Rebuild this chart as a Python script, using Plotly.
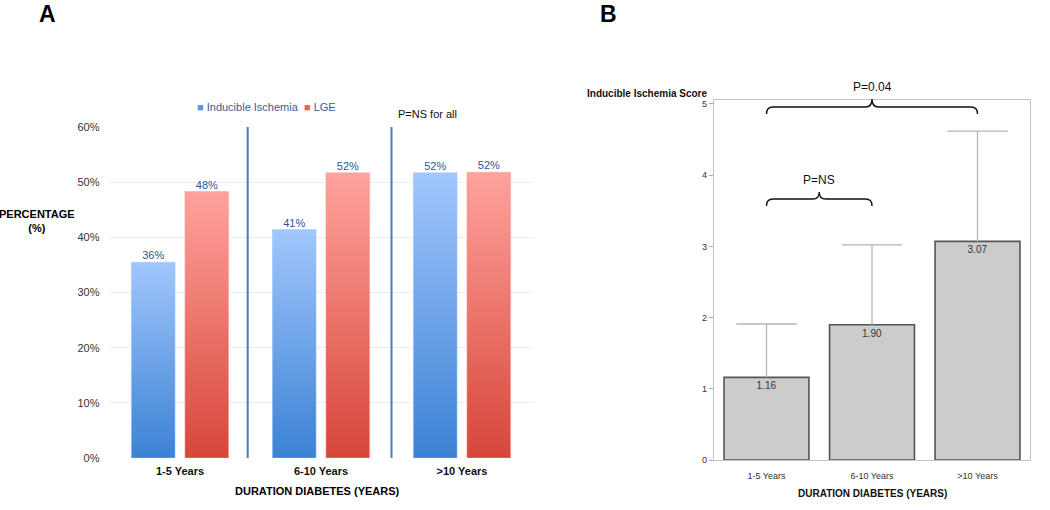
import plotly.graph_objects as go

# ---------------- data ----------------
categories = ["1-5 Years", "6-10 Years", ">10 Years"]
ischemia_pct = [35.5, 41.4, 51.7]
lge_pct = [48.3, 51.7, 51.8]
score_mean = [1.16, 1.90, 3.07]
score_err_plus = [0.75, 1.12, 1.55]
pct_ticks = [0, 10, 20, 30, 40, 50, 60]
score_ticks = [0, 1, 2, 3, 4, 5]

W, H = 1050, 510
FONT = "Liberation Sans, Arial, sans-serif"

def py(pix):
    """pixel row -> paper fraction"""
    return 1 - pix / H

fig = go.Figure()

# ---------------- panel A : gradient bars ----------------
bar_w = 0.31
off = 0.19
series = [
    ("Inducible Ischemia", ischemia_pct, -off, "#3b82d4", "#a2c6fd"),
    ("LGE", lge_pct, off, "#d7463a", "#ffa29c"),
]
for name, vals, o, dark, light in series:
    for i, v in enumerate(vals):
        x0 = i + o - bar_w / 2
        x1 = i + o + bar_w / 2
        fig.add_trace(go.Scatter(
            x=[x0, x0, x1, x1, x0], y=[0, v, v, 0, 0],
            mode="lines", fill="toself", line=dict(width=0.5, color=light),
            fillgradient=dict(type="vertical", colorscale=[[0, dark], [1, light]]),
            xaxis="x", yaxis="y", showlegend=False, hoverinfo="skip", name=name,
        ))
    fig.add_trace(go.Scatter(
        x=[i + o for i in range(len(vals))], y=vals, mode="text",
        texttemplate="%{y:.0f}%", textposition="top center",
        textfont=dict(family=FONT, size=11, color="#2f5597"),
        xaxis="x", yaxis="y", showlegend=False, name=name, hoverinfo="skip",
    ))

# separators between category groups
for k in range(len(categories) - 1):
    fig.add_shape(type="line", xref="x", yref="y", x0=k + 0.48 + 0.02 * k, x1=k + 0.48 + 0.02 * k,
                  y0=0, y1=pct_ticks[-1], line=dict(color="#4a7ebb", width=2))

# ---------------- panel B : score bars ----------------
cat_idx = list(range(len(categories)))
ERR_COLOR = "#b4b4b4"
fig.add_trace(go.Bar(
    x=cat_idx, y=score_mean, width=0.805,
    marker=dict(color="#cccccc", line=dict(color="#555555", width=1.6)),
    error_y=dict(type="data", symmetric=False, array=score_err_plus,
                 arrayminus=[0] * len(score_mean), color=ERR_COLOR, thickness=1.3, width=0),
    texttemplate="%{y:.2f}", textposition="inside", insidetextanchor="end",
    textfont=dict(family=FONT, size=10, color="#333333"), constraintext="none",
    xaxis="x2", yaxis="y2", showlegend=False, name="Inducible Ischemia Score", hoverinfo="skip",
))
# error-bar caps (top only)
fig.add_trace(go.Scatter(
    x=cat_idx, y=[m + e for m, e in zip(score_mean, score_err_plus)], mode="markers",
    marker=dict(symbol="line-ew-open", size=43, color=ERR_COLOR,
                line=dict(color=ERR_COLOR, width=1.3)),
    xaxis="x2", yaxis="y2", showlegend=False, hoverinfo="skip", cliponaxis=False,
))

def brace(xa, xb, ybar, yend, ytip):
    xm = (xa + xb) / 2
    d = 0.06
    return (f"M {xa},{py(yend)} Q {xa},{py(ybar)} {xa + d},{py(ybar)} "
            f"L {xm - d},{py(ybar)} Q {xm},{py(ybar)} {xm},{py(ytip)} "
            f"Q {xm},{py(ybar)} {xm + d},{py(ybar)} "
            f"L {xb - d},{py(ybar)} Q {xb},{py(ybar)} {xb},{py(yend)}")

fig.add_shape(type="path", xref="x2", yref="paper", path=brace(0, 2, 107, 114, 99),
              line=dict(color="#111111", width=1.4))
fig.add_shape(type="path", xref="x2", yref="paper", path=brace(0, 1, 199, 206, 192),
              line=dict(color="#111111", width=1.4))

ann = []

def note(text, x, y, size, color, xref="paper", xanchor="center"):
    ann.append(dict(text=text, xref=xref, yref="paper", x=x, y=py(y), showarrow=False,
                    xanchor=xanchor, yanchor="middle",
                    font=dict(family=FONT, size=size, color=color)))

note("P=0.04", 1, 87, 12, "#111111", xref="x2")
note("P=NS", 0.5, 180, 12, "#111111", xref="x2")
# panel letters
note("<b>A</b>", 47 / W, 14, 23, "#000000")
note("<b>B</b>", 608 / W, 14, 23, "#000000")
# panel A legend (custom)
note('<span style="color:#5b97e6">■</span> Inducible Ischemia  '
     '<span style="color:#e0665c">■</span> LGE', 266 / W, 107, 11, "#3a5c93")
note("P=NS for all", 427 / W, 114, 11, "#111111")
# panel A axis titles
note("<b>PERCENTAGE</b><br><b>(%)</b>", 37 / W, 221, 11, "#000000")
note("<b>DURATION DIABETES (YEARS)</b>", 317 / W, 491, 11, "#000000")
# panel B axis titles
note("<b>Inducible Ischemia Score</b>", 709 / W, 93, 10, "#111111", xanchor="right")
note("<b>DURATION DIABETES (YEARS)</b>", 872 / W, 493, 10, "#111111")

fig.update_layout(
    template="none",
    width=W, height=H, margin=dict(l=0, r=0, t=0, b=0, autoexpand=False),
    paper_bgcolor="white", plot_bgcolor="white",
    showlegend=False, annotations=ann, hovermode=False,
    xaxis=dict(domain=[109.5 / W, 532.5 / W], range=[-0.5, 2.5], tickvals=cat_idx,
               ticktext=[f"<b>{c}</b>" for c in categories], showgrid=False, zeroline=False,
               showline=False, ticks="", tickfont=dict(family=FONT, size=11, color="#111111"),
               ticklabelstandoff=5, automargin=False, anchor="y"),
    yaxis=dict(domain=[py(458), py(127)], range=[0, 60], tickvals=pct_ticks,
               ticktext=[f"{t}%" for t in pct_ticks],
               showgrid=True, gridcolor="#e4edf8", gridwidth=1, zeroline=False, showline=False,
               ticks="", tickfont=dict(family=FONT, size=11, color="#333333"), ticklabelstandoff=9,
               automargin=False, anchor="x"),
    xaxis2=dict(domain=[713.75 / W, 1030.25 / W], range=[-0.5, 2.5], tickvals=cat_idx,
                ticktext=categories, showgrid=False, zeroline=False, showline=True, mirror=True,
                linecolor="#c4c4c4", linewidth=1, ticks="", tickfont=dict(family=FONT, size=9, color="#333333"),
                ticklabelstandoff=7, automargin=False, anchor="y2"),
    yaxis2=dict(domain=[py(460), py(100)], range=[0, 5.056], tickvals=score_ticks, showgrid=False,
                zeroline=False, showline=True, mirror=True, linecolor="#c4c4c4", linewidth=1,
                ticks="outside", ticklen=4, tickcolor="#aaaaaa", anchor="x2", automargin=False,
                tickfont=dict(family=FONT, size=9, color="#333333")),
)

fig.write_html("out.html", config={"displayModeBar": False},
               post_script="document.body.style.margin='0';")
